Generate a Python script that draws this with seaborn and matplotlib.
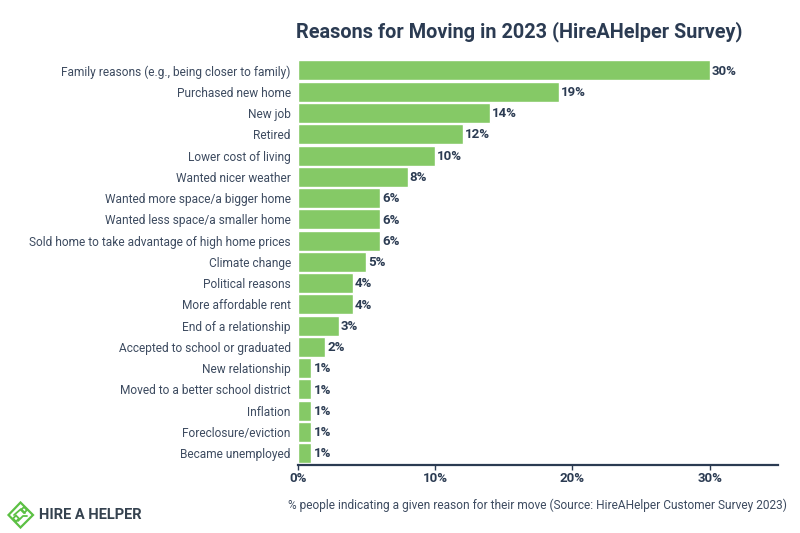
import matplotlib
matplotlib.use("Agg")
import matplotlib.pyplot as plt
from matplotlib.patches import Polygon
from matplotlib.ticker import FuncFormatter
import pandas as pd
import seaborn as sns

reasons = [
    "Family reasons (e.g., being closer to family)",
    "Purchased new home",
    "New job",
    "Retired",
    "Lower cost of living",
    "Wanted nicer weather",
    "Wanted more space/a bigger home",
    "Wanted less space/a smaller home",
    "Sold home to take advantage of high home prices",
    "Climate change",
    "Political reasons",
    "More affordable rent",
    "End of a relationship",
    "Accepted to school or graduated",
    "New relationship",
    "Moved to a better school district",
    "Inflation",
    "Foreclosure/eviction",
    "Became unemployed",
]
shares = [30, 19, 14, 12, 10, 8, 6, 6, 6, 5, 4, 4, 3, 2, 1, 1, 1, 1, 1]
x_ticks = [0, 10, 20, 30]

GREEN = "#85c966"
DARK = "#2b3b52"
TEXT = "#3d4b60"
LOGO_GREEN = "#5cc044"

sns.set_style("white")
plt.rcParams["font.family"] = ["Roboto", "DejaVu Sans"]

df = pd.DataFrame({"reason": reasons, "share": shares})

fig = plt.figure(figsize=(8, 5.33), dpi=100)
W, H = 800, 533
ax = fig.add_axes([297.7 / W, 1 - 465 / H, 480 / W, 405 / H])

sns.barplot(data=df, x="share", y="reason", color=GREEN, saturation=1, width=0.94, ax=ax)

ax.set_xlim(0, 34.95)
ax.set_ylim(18.55, -0.49)
ax.set_xlabel("")
ax.set_ylabel("")
sns.despine(ax=ax, left=True)
ax.spines["bottom"].set_color(DARK)
ax.spines["bottom"].set_linewidth(1.6)

ax.set_xticks(x_ticks)
ax.xaxis.set_major_formatter(FuncFormatter(lambda v, _: f"{v:.0f}%"))
ax.tick_params(axis="x", bottom=True, length=3.5, width=1, color=DARK, pad=1.5, labelsize=9.5, labelcolor=DARK)
for lab in ax.get_xticklabels():
    lab.set_fontweight("bold")
ax.tick_params(axis="y", length=0, pad=5, labelsize=8.6, labelcolor=TEXT)

for i, v in enumerate(shares):
    ax.annotate(f"{v}%", (v, i), xytext=(1.5, -0.5), textcoords="offset points",
                va="center", ha="left", fontsize=9.5, fontweight="bold", color=DARK)

fig.text(519.5 / W, 1 - 32 / H, "Reasons for Moving in 2023 (HireAHelper Survey)",
         ha="center", va="center", fontsize=14.3, fontweight="bold", color=DARK)
fig.text(787 / W, 1 - 505 / H,
         "% people indicating a given reason for their move (Source: HireAHelper Customer Survey 2023)",
         ha="right", va="center", fontsize=8.55, color=TEXT)

# logo
fig.text(39 / W, 1 - 515 / H, "HIRE A HELPER", ha="left", va="center",
         fontsize=10.5, fontweight="bold", color="#35424f")
logo = fig.add_axes([6 / W, 1 - 530 / H, 29 / W, 29 / H])
logo.set_xlim(6, 35)
logo.set_ylim(530, 501)
logo.axis("off")
logo.add_patch(Polygon([(20.5, 502.5), (33, 515), (20.5, 527.5), (8.5, 515)], closed=True,
                       fill=False, edgecolor=LOGO_GREEN, linewidth=1.6))
logo.add_patch(Polygon([(24, 507), (27, 510), (24, 513), (21, 510)], closed=True,
                       fill=False, edgecolor=LOGO_GREEN, linewidth=1.3))
logo.add_patch(Polygon([(16, 515.5), (19, 518.5), (16, 521.5), (13, 518.5)], closed=True,
                       fill=False, edgecolor=LOGO_GREEN, linewidth=1.3))
logo.plot([14, 21, 25], [515, 509, 513], color=LOGO_GREEN, linewidth=1.3)
logo.plot([18, 23, 27], [521, 516, 516], color=LOGO_GREEN, linewidth=1.3)

fig.savefig("out.png", dpi=100)
